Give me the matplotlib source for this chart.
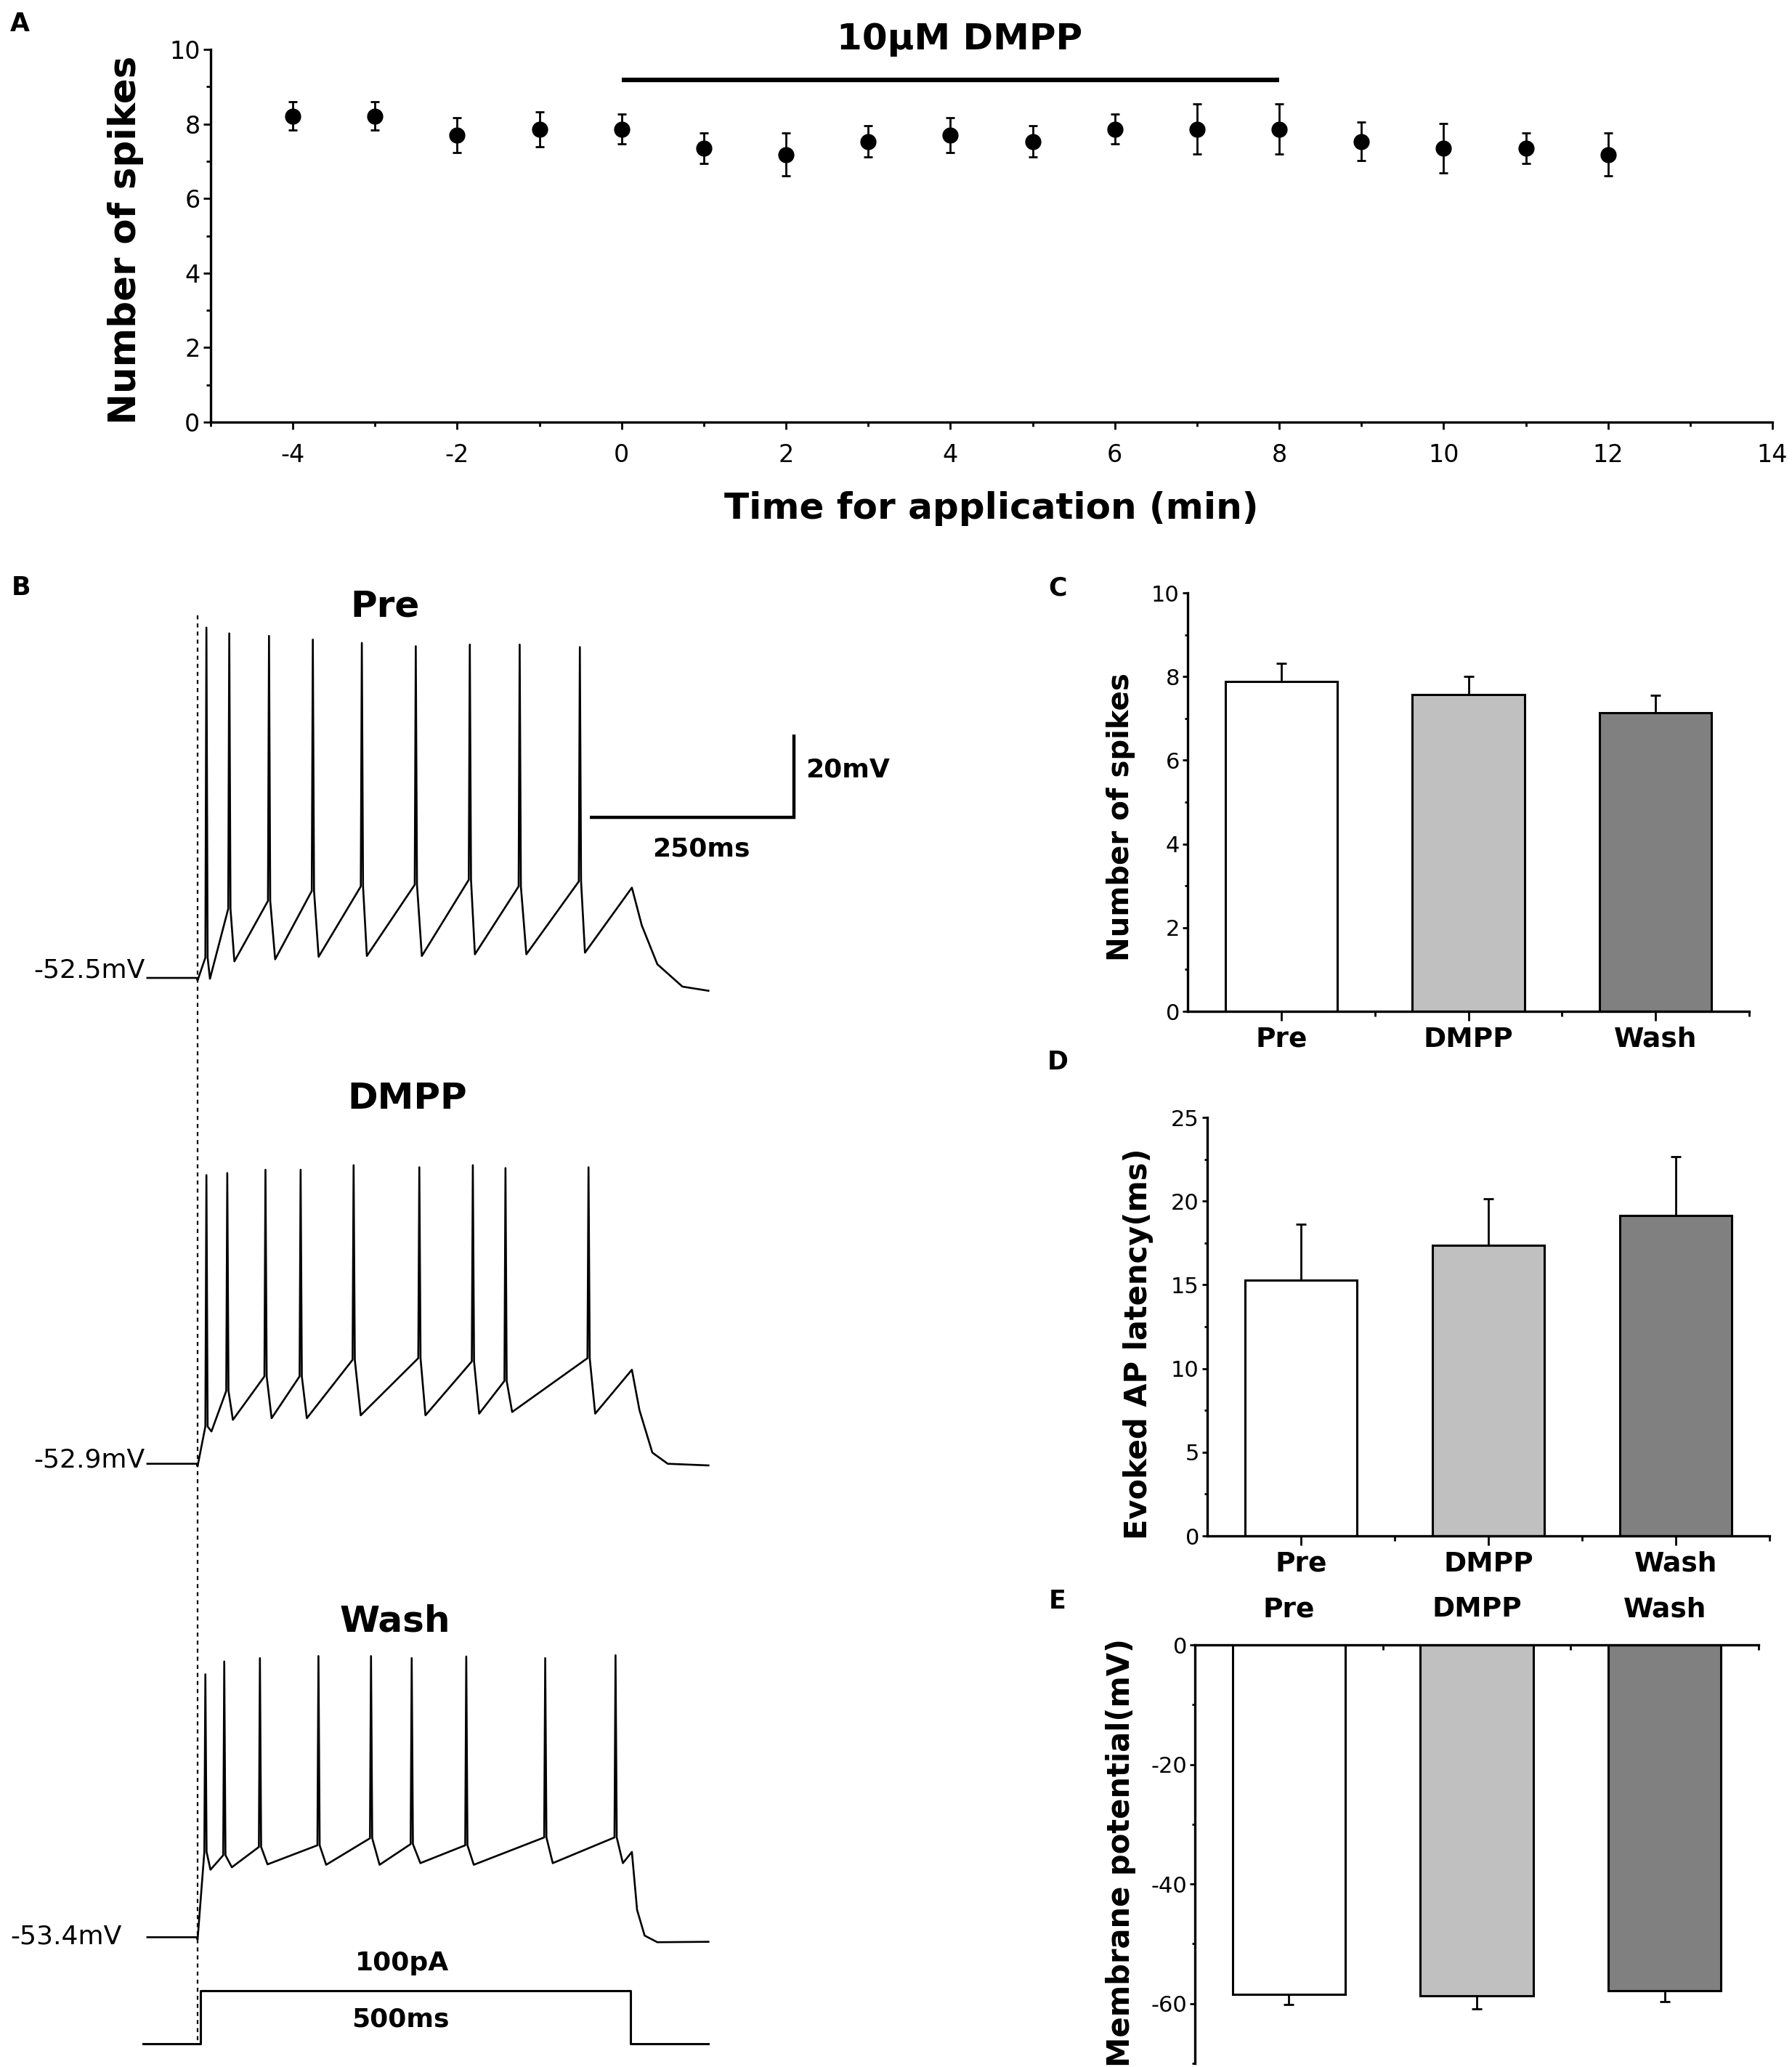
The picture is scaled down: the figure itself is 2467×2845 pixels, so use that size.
import numpy as np
import matplotlib
matplotlib.use('Agg')
import matplotlib.pyplot as plt

matplotlib.rcParams['font.family'] = 'DejaVu Sans'
matplotlib.rcParams['axes.unicode_minus'] = False

W, H = 2467, 2845

# ---- panel A: spikes vs time
t_min = [-4, -3, -2, -1, 0, 1, 2, 3, 4, 5, 6, 7, 8, 9, 10, 11, 12]
spk_mean = [8.21, 8.21, 7.70, 7.86, 7.86, 7.35, 7.18, 7.53, 7.70, 7.53, 7.86, 7.86, 7.86, 7.53, 7.35, 7.35, 7.18]
spk_sem = [0.38, 0.38, 0.46, 0.47, 0.40, 0.41, 0.58, 0.42, 0.46, 0.42, 0.40, 0.67, 0.67, 0.52, 0.67, 0.41, 0.58]
drug_on = [0, 8]
drug_level = 9.19

# ---- panels C, D, E
groups = ['Pre', 'DMPP', 'Wash']
bar_colors = ['#ffffff', '#c0c0c0', '#808080']
n_spikes = [7.88, 7.57, 7.13]
n_spikes_err = [0.43, 0.43, 0.42]
latency = [15.26, 17.37, 19.12]
latency_err = [3.36, 2.75, 3.52]
memb_pot = [-58.4, -58.7, -57.8]
memb_pot_err = [1.7, 2.2, 1.9]

# ---- panel B: traces (ms, mV) read from the recordings
traces = {
    'Pre': dict(rest=-52.5,
                spk_t=[10.2, 36.6, 82.5, 133.1, 189.7, 252.0, 314.4, 372.0, 441.5],
                spk_pk=[32.1, 30.7, 30.1, 29.2, 28.4, 27.6, 28.0, 28.0, 27.4],
                pre_v=[-47.6, -35.8, -33.9, -31.5, -30.4, -30.0, -28.8, -30.4, -29.2],
                tr_t=[14.3, 42.5, 89.6, 139.8, 195.5, 259.0, 320.3, 379.7, 447.4],
                tr_v=[-52.7, -48.5, -48.0, -47.4, -47.2, -47.2, -46.8, -46.8, -46.4],
                tail_t=[501.6, 513, 531, 560, 590],
                tail_v=[-30.7, -39.8, -49.2, -54.6, -55.6]),
    'DMPP': dict(rest=-52.9,
                 spk_t=[10.2, 34.3, 78.4, 119.0, 180.2, 256.1, 317.9, 355.6, 451.5],
                 spk_pk=[16.8, 17.3, 18.1, 18.1, 19.2, 18.7, 19.2, 18.5, 18.7],
                 pre_v=[-43.9, -35.3, -31.8, -31.8, -27.8, -27.4, -28.2, -32.9, -27.4],
                 tr_t=[16.0, 40.8, 85.5, 126.2, 188.4, 263.2, 325.2, 363.3, 459.2],
                 tr_v=[-45.1, -42.3, -41.9, -41.9, -41.2, -41.2, -40.8, -40.4, -40.8],
                 tail_t=[501.6, 510.4, 525.2, 543, 590],
                 tail_v=[-30.2, -40.0, -50.2, -52.9, -53.3]),
    'Wash': dict(rest=-53.4,
                 spk_t=[9.0, 30.8, 72.0, 139.6, 200.3, 247.3, 310.3, 401.5, 482.7],
                 spk_pk=[10.1, 13.2, 14.0, 14.5, 14.5, 14.0, 14.4, 14.0, 14.7],
                 pre_v=[-32.8, -33.6, -31.6, -31.2, -29.5, -30.9, -31.2, -29.3, -29.3],
                 tr_t=[14.9, 39.6, 80.8, 148.5, 210.2, 257.3, 319.0, 410.2, 491.2],
                 tr_v=[-37.1, -36.5, -35.8, -35.9, -35.9, -35.5, -35.9, -35.5, -35.5],
                 tail_t=[501.6, 507.6, 516.3, 531, 590],
                 tail_v=[-32.8, -46.8, -53.0, -54.6, -54.5]),
}
rest_labels = ['-52.5mV', '-52.9mV', '-53.4mV']
stim_t = [-63, 3, 500, 590]
stim_pa = [0, 100, 0, 0]

# pixel layout of the panel B drawing
MS_PX, MV_PX, X0_PX = 1.192, 5.7, 272
base_px = {'Pre': 1346, 'DMPP': 2014.7, 'Wash': 2666.4}


def box(l, t, r, b):
    return [l / W, 1 - b / H, (r - l) / W, (b - t) / H]


def ftext(x, y, s, **kw):
    fig.text(x / W, 1 - y / H, s, **kw)


def build(tr):
    t = [-58, -1, 0]
    v = [tr['rest'], tr['rest'], tr['rest'] - 0.6]
    for i in range(len(tr['spk_t'])):
        ts = tr['spk_t'][i]
        # upstroke, peak, fast downstroke back to threshold, then trough
        t += [ts - 1.2, ts, ts + 1.4, tr['tr_t'][i]]
        v += [tr['pre_v'][i], tr['spk_pk'][i], tr['pre_v'][i], tr['tr_v'][i]]
    t += tr['tail_t']
    v += tr['tail_v']
    return np.array(t), np.array(v)


fig = plt.figure(figsize=(W / 100, H / 100), dpi=100)

# ================= A
ax = fig.add_axes(box(290, 68, 2440, 581))
ax.errorbar(t_min, spk_mean, yerr=spk_sem, fmt='o', color='k', ms=15,
            capsize=4, elinewidth=2, capthick=2)
ax.plot(drug_on, [drug_level, drug_level], color='k', lw=4.5,
        solid_capstyle='butt', clip_on=False)
ax.set_xlim(-5, 14)
ax.set_ylim(0, 10)
ax.set_xticks(range(-4, 15, 2))
ax.set_xticks(range(-5, 15), minor=True)
ax.set_yticks(range(0, 11, 2))
ax.set_yticks(range(1, 10, 2), minor=True)
for s in ['top', 'right']:
    ax.spines[s].set_visible(False)
for s in ['left', 'bottom']:
    ax.spines[s].set_linewidth(2.4)
ax.tick_params(which='major', length=7, width=2, labelsize=24)
ax.tick_params(which='minor', length=4, width=2)
ax.tick_params(axis='x', pad=14)
ftext(173, 330, 'Number of spikes', rotation=90, ha='center', va='center',
      fontsize=37, fontweight='bold')
ftext(1365, 700, 'Time for application (min)', ha='center', va='center',
      fontsize=36, fontweight='bold')
ftext(1321, 54, '10μM DMPP', ha='center', va='center', fontsize=36, fontweight='bold')
ftext(27, 33, 'A', ha='center', va='center', fontsize=25, fontweight='bold')

# ================= B
axb = fig.add_axes(box(0, 760, 1300, 2845))
axb.set_xlim(-X0_PX / MS_PX, (1300 - X0_PX) / MS_PX)
axb.set_ylim(-H / MV_PX, -760 / MV_PX)
axb.axis('off')
for name in groups:
    tr = traces[name]
    t, v = build(tr)
    axb.plot(t, -base_px[name] / MV_PX + (v - tr['rest']), color='k', lw=1.9)
# current step
stim_y = -2812.7 / MV_PX + np.array(stim_pa) * 72.3 / 100 / MV_PX
axb.plot(stim_t, stim_y, color='k', lw=2.2, drawstyle='steps-post')
# onset line
axb.plot([0, 0], [-847 / MV_PX, -2812 / MV_PX], color='k', lw=1.6, ls=(0, (2.5, 2.5)))
# scale bar
yb = -1125 / MV_PX
axb.plot([453, 689, 689], [yb, yb, yb + 20], color='k', lw=3.2,
         solid_joinstyle='miter', solid_capstyle='butt')

ftext(29, 809, 'B', ha='center', va='center', fontsize=25, fontweight='bold')
ftext(530, 834, 'Pre', ha='center', va='center', fontsize=36, fontweight='bold')
ftext(561, 1512, 'DMPP', ha='center', va='center', fontsize=36, fontweight='bold')
ftext(544, 2232, 'Wash', ha='center', va='center', fontsize=36, fontweight='bold')
ftext(200, 1336, rest_labels[0], ha='right', va='center', fontsize=26)
ftext(200, 2010, rest_labels[1], ha='right', va='center', fontsize=26)
ftext(168, 2666, rest_labels[2], ha='right', va='center', fontsize=26)
ftext(1109, 1060, '20mV', ha='left', va='center', fontsize=26, fontweight='bold')
ftext(965, 1168, '250ms', ha='center', va='center', fontsize=26, fontweight='bold')
ftext(554, 2702, '100pA', ha='center', va='center', fontsize=26, fontweight='bold')
ftext(551, 2779, '500ms', ha='center', va='center', fontsize=26, fontweight='bold')


# ================= C, D, E
def bar_panel(rect, vals, errs, ylim, major, minor, top=False):
    a = fig.add_axes(rect)
    x = np.arange(1, len(vals) + 1)
    if top:
        yerr = [errs, [0] * len(errs)]
    else:
        yerr = [[0] * len(errs), errs]
    a.bar(x, vals, width=0.6, color=bar_colors, edgecolor='k', linewidth=2.2, zorder=2)
    a.errorbar(x, vals, yerr=yerr, fmt='none', ecolor='k', elinewidth=2,
               capsize=5, capthick=2, zorder=3)
    a.set_xlim(0.5, 3.5)
    a.set_ylim(*ylim)
    a.set_xticks(x)
    a.set_xticklabels(groups, fontsize=27, fontweight='bold')
    a.set_xticks([1.5, 2.5, 3.5], minor=True)
    a.set_yticks(major)
    a.set_yticks(minor, minor=True)
    a.spines['right'].set_visible(False)
    a.spines['left'].set_linewidth(2.4)
    if top:
        a.spines['bottom'].set_visible(False)
        a.spines['top'].set_linewidth(2.4)
        a.xaxis.tick_top()
        a.tick_params(axis='x', which='both', direction='in', pad=22)
    else:
        a.spines['top'].set_visible(False)
        a.spines['bottom'].set_linewidth(2.4)
        a.tick_params(axis='x', pad=6)
    a.tick_params(axis='x', which='major', length=9, width=2)
    a.tick_params(axis='x', which='minor', length=5, width=2)
    a.tick_params(axis='y', which='major', length=5, width=2, labelsize=22, pad=3)
    a.tick_params(axis='y', which='minor', length=3, width=2)
    for sp in a.spines.values():
        sp.set_zorder(4)
    return a


bar_panel(box(1635, 816, 2408, 1392), n_spikes, n_spikes_err, (0, 10),
          range(0, 11, 2), range(1, 10, 2))
ftext(1543, 1125, 'Number of spikes', rotation=90, ha='center', va='center',
      fontsize=29, fontweight='bold')
ftext(1456, 809, 'C', ha='center', va='center', fontsize=25, fontweight='bold')

bar_panel(box(1662, 1538, 2436, 2114), latency, latency_err, (0, 25),
          range(0, 26, 5), np.arange(2.5, 25, 5))
ftext(1567, 1850, 'Evoked AP latency(ms)', rotation=90, ha='center', va='center',
      fontsize=30, fontweight='bold')
ftext(1456, 1462, 'D', ha='center', va='center', fontsize=25, fontweight='bold')

bar_panel(box(1645, 2264, 2421, 2840), memb_pot, memb_pot_err, (-70, 0),
          range(-60, 1, 20), range(-70, 0, 20), top=True)
ftext(1543, 2550, 'Membrane potential(mV)', rotation=90, ha='center', va='center',
      fontsize=30, fontweight='bold')
ftext(1456, 2204, 'E', ha='center', va='center', fontsize=25, fontweight='bold')

fig.savefig('out.png', dpi=100)
